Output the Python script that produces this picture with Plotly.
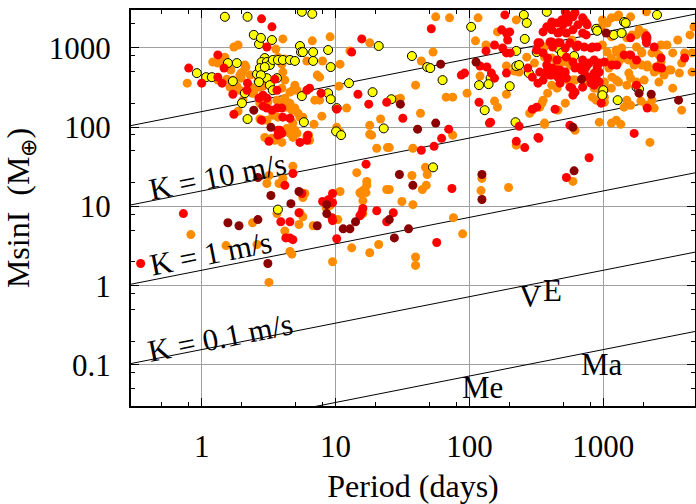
import plotly.graph_objects as go
import numpy as np

# ---------------- data (Period [days], M sin i [Earth masses]) ----------------
P_yellow = [1.49, 2.2, 2.45, 2.68, 2.77, 3.35, 5.42, 5.52, 5.7, 6.8, 8.8, 5.6, 6.7, 6.8, 9.2, 21.0, 37.2, 48.4,
            1.57, 1.83, 0.92, 1.08, 1.19, 2.59, 2.96, 2.8, 2.72, 3.07, 3.23, 3.4, 3.71, 4.04, 4.56, 4.97, 3.07,
            3.23, 3.4, 2.1, 5.6, 8.8, 9.2, 12.6, 2.0, 2.2, 5.8, 10.1, 11.0, 18.9, 26.1, 22.9, 10.2, 1.71, 51,
            103, 255, 268, 378, 259, 224, 318, 63, 144, 118, 139, 224, 235, 278, 200, 130, 221, 53.5, 3.71,
            458, 490, 605, 758, 884, 900, 1200, 1370, 1430, 1470, 2520, 2100, 1770, 1850, 1000, 985, 1280,
            3.65, 2.77, 2.68, 2.96]
M_yellow = [2450, 2450, 1450, 1110, 1330, 1250, 1050, 880, 880, 880, 935, 2830, 2670, 680, 570, 1050, 785, 570,
            640, 640, 478, 425, 425, 464, 740, 660, 553, 660, 605, 700, 700, 700, 700, 680, 413,
            337, 291, 267, 245, 267, 224, 357, 200, 126, 115, 88, 79, 275, 224, 96, 173, 378, 553,
            1830, 2590, 2050, 2830, 1290, 910, 880, 390, 413, 337, 347, 587, 605, 478, 327, 163, 115, 31, 9.1,
            990, 860, 785, 620, 1730, 1630, 1450, 1530, 2110, 2050, 2590, 1330, 318, 300, 291, 252, 218,
            413, 451, 368, 570]

P_orange = [1.74, 1.87, 1.49, 1.21, 1.32, 1.37, 1.65, 1.97, 2.14, 0.78, 1.32, 1.71, 1.97, 2.03, 2.3, 1.54, 1.63,
            1.93, 1.83, 2.63, 2.87, 2.33, 2.68, 2.45, 1.93, 2.03, 2.37, 1.87, 2.72, 3.12, 4.04, 4.33, 4.56, 4.72,
            4.97, 5.24, 3.4, 3.71, 2.72, 2.87, 3.07, 4.8, 4.97, 5.7, 5.42, 4.33, 4.56, 4.8, 5.15, 2.96, 3.35,
            3.52, 3.97, 6.4, 6.1, 10.2, 10.8, 4.04, 3.58, 3.71, 3.97, 4.18, 4.04, 4.18, 4.97, 5.15, 4.8, 3.97,
            4.56, 4.18, 3.65, 6.7, 9.1, 6.1, 8.0, 10.8, 12.8, 18.0, 43.7, 7.0, 7.6, 10.6, 7.3, 7.6, 2.1, 7.9,
            6.9, 6.3, 12.1, 18.0, 18.6, 18.0, 20.3, 21.7, 29.0, 39.6, 43.1, 37.8, 24.4, 25.2, 14.4, 4.8, 3.18,
            3.78, 4.04, 3.07, 37.2, 44.5, 47.6, 48.4, 46.9, 5.9, 5.7, 10.8, 15.2, 15.4, 16.9, 17.1, 17.1, 16.0,
            24.1, 25.2, 16.0, 31.3, 37.8, 5.7, 5.42, 5.33, 6.8, 8.5, 9.1, 10.4, 16.0, 13.2, 18.0, 21.0, 39.6,
            39.6, 9.5, 76, 89, 124, 122, 196, 3.65, 4.18, 4.56, 4.72, 2.4, 1.52, 2.59, 3.18, 0.83,
            56, 71, 116, 162, 224, 111, 133, 268, 53.5, 120, 189, 217, 235, 273, 306, 67, 75, 96, 189, 154,
            162, 30.5, 75, 355, 348, 335, 364, 224, 282,
            721, 985, 1070, 1150, 1260, 1300, 1600, 2100, 965, 1150, 1500, 1770, 2020, 1850, 1640, 2700, 2990,
            3600, 4440, 4750, 583, 364, 985, 1070, 1250, 1370, 1940, 2310, 2470, 3300, 4050, 4600, 364, 412,
            451, 500, 563, 1150, 1300, 1550, 1700, 1940, 2130, 2400, 2840, 3200, 3700, 4600, 2700, 3850, 1260,
            1350, 1430, 1550, 1640, 1770, 1940, 2600, 1800, 2130, 2470, 2520, 3100, 1100, 1160, 1250, 1300,
            1550, 1600, 1770, 615, 758, 1020, 1050, 1150, 1500, 2020, 2600, 3300, 1910, 2100, 2310, 2400, 384,
            900, 965, 1020, 933, 1500, 1600, 1430, 3850, 458, 520, 364, 933, 1150, 1250, 1350, 615, 2230, 593,
            854, 830, 884, 1020, 295, 475, 546, 593, 412, 451]
M_orange = [1020, 1080, 760, 660, 640, 700, 522, 478, 570, 357, 390, 390, 413, 492, 451, 401, 318,
            451, 327, 378, 327, 318, 318, 267, 291, 218, 267, 158, 200, 205, 200, 178, 200, 163,
            173, 149, 141, 133, 126, 122, 122, 112, 91, 133, 133, 96, 83, 74, 83, 74, 72,
            68, 64, 68, 76, 99, 86, 1290, 960, 760, 620, 720, 492, 390, 337, 291, 291, 309,
            275, 231, 218, 1220, 1370, 680, 680, 620, 910, 1150, 680, 218, 218, 327, 451, 425, 605, 137,
            108, 79, 173, 105, 79, 81, 54, 126, 224, 337, 149, 54, 55, 55, 26.6, 32, 24.5,
            19.4, 22.5, 19.4, 24.5, 16.3, 18.4, 25.2, 31, 14.5, 12.9, 15.4, 14.9, 14.5, 14.9, 20.6, 18.4, 15.8,
            16.3, 16.3, 11.8, 11.5, 10.5, 7.4, 8.3, 5.9, 5.7, 9.6, 10.2, 6.8, 8.1, 3.0, 2.6, 3.3, 2.3,
            1.8, 2.0, 7.2, 4.5, 22.5, 15.8, 17.3, 8.1, 4.9, 2.7, 2.5, 6.2, 3.2, 3.3, 1.1, 4.4,
            2450, 2380, 2380, 1580, 2240, 1220, 1080, 760, 880, 438, 587, 507, 492, 492, 640, 238, 238, 267, 259, 212,
            178, 231, 79, 218, 200, 178, 108, 59, 149,
            2240, 2240, 2050, 2380, 2450, 2590, 2450, 2830, 1830, 1370, 1330, 1450, 1530, 1680, 1450, 1080, 1080,
            1250, 1450, 1830, 1250, 1020, 1080, 880, 935, 990, 860, 860, 880, 860, 860, 860, 760, 740,
            640, 660, 605, 740, 660, 700, 605, 605, 605, 492, 451, 522, 478, 492, 660, 640, 880,
            760, 740, 810, 700, 1020, 880, 810, 660, 570, 570, 522, 522, 553, 425, 390, 368,
            478, 413, 368, 390, 368, 368, 309, 309, 337, 390, 368, 309, 212, 188, 218, 173, 267,
            309, 267, 238, 218, 218, 188, 178, 163, 163, 200, 112, 115, 112, 122, 108, 91, 64, 20.6,
            309, 238, 218, 205, 163, 390, 390, 390, 337, 309]

P_red = [2.8, 3.35, 3.07, 1.32, 1.47, 0.8, 1.0, 1.32, 1.42, 2.2, 2.18, 1.71, 2.87, 3.07, 3.65, 3.52, 2.87, 3.07,
         3.35, 3.65, 3.97, 2.68, 1.74, 2.8, 4.04, 4.56, 3.71, 3.97, 3.71, 3.18, 3.84, 5.42, 6.2, 6.1, 6.4, 7.8,
         10.2, 6.1, 13.2, 15.7, 14.7, 17.7, 24.1, 31.8, 43.7, 16.9, 9.5, 4.8, 4.18, 5.33, 3.9, 4.56, 4.25, 4.56,
         4.8, 5.6, 0.73, 0.35, 8.0, 8.9, 9.4, 9.5, 9.5, 16.0, 15.7, 15.2, 20.3, 27.0, 24.1, 10.2, 57, 74,
         51.9, 184, 174, 189, 200, 193, 355, 378, 154, 133, 177, 189, 202, 325, 120, 135, 87, 92, 146, 154,
         189, 118, 141, 70, 62, 54.4, 235, 295, 318, 325, 224, 259, 330, 144,
         520, 615, 701, 412, 451, 500, 546, 520, 646, 758, 412, 475, 530, 593, 701, 1600, 2100, 2100, 412, 458,
         520, 646, 721, 811, 900, 1430, 1600, 2700, 4050, 384, 419, 475, 520, 615, 688, 721, 854, 900, 1020,
         2520, 2730, 364, 412, 458, 530, 884, 900, 854, 1770, 583, 615, 593, 2130, 436, 563, 1700, 965, 1160,
         1260, 1770, 2400, 2100, 811, 783, 530,
         318, 355, 384, 451, 530, 593, 665, 745, 451, 500, 378, 335, 400, 355, 325, 475, 563, 701, 783, 811,
         854, 783, 701, 630, 563, 475, 419, 400, 335, 458, 490, 540, 593, 745, 745, 830, 933, 933, 933, 273,
         295]
M_red = [2310, 1830, 1020, 810, 553, 553, 357, 425, 357, 357, 291, 259, 252, 231, 291, 401, 183, 173,
         163, 173, 173, 231, 145, 122, 133, 129, 91, 83, 79, 66, 91, 64, 79, 291, 309, 267,
         168, 68, 880, 1290, 259, 194, 205, 129, 51, 34, 14.5, 25.9, 18.4, 8.3, 6.4, 6.4, 4.0, 4.0,
         3.8, 14.5, 8.1, 1.9, 11.5, 12.2, 7.2, 6.6, 11.1, 9.4, 8.3, 7.6, 8.8, 8.3, 6.4, 3.9, 3.5, 16.8,
         1730, 2590, 1680, 1530, 1580, 1250, 1580, 1830, 1080, 910, 990, 860, 860, 1150, 587, 570, 451, 478, 478, 413,
         478, 205, 112, 94, 72, 57, 102, 168, 178, 74, 66, 55, 72, 115,
         2830, 2750, 2380, 2110, 2050, 1940, 2110, 2380, 1940, 1940, 1680, 1580, 1530, 1680, 1530, 1330, 1410, 1250, 1180, 1150,
         990, 1080, 1020, 990, 1020, 810, 810, 740, 740, 570, 553, 522, 492, 553, 522, 492, 700, 570, 660,
         570, 553, 478, 451, 425, 413, 425, 368, 337, 337, 309, 275, 252, 173, 168, 105, 83, 200, 605,
         605, 700, 1020, 1150, 368, 41, 23.1,
         935, 860, 740, 700, 760, 660, 570, 570, 522, 492, 605, 492, 451, 390, 357, 357, 318, 318, 425, 357,
         478, 640, 700, 1020, 1150, 1150, 1020, 1180, 1150, 1530, 2240, 2590, 2450, 2050, 1450, 1020, 640, 492, 368, 553,
         425]

P_darkred = [2.45, 3.29, 2.63, 3.29, 4.64, 5.33, 1.57, 1.9, 2.63, 3.12, 8.6, 8.6, 7.3, 11.4, 12.8, 14.1, 25.2,
             30, 37.8, 35.1, 27.5, 41, 56, 30.5, 61, 112, 124, 124, 593, 605, 688, 1050, 1850, 2280, 3650]
M_darkred = [163, 99, 23.1, 13.7, 10.8, 15.4, 6.2, 5.7, 6.8, 1.9, 10.5, 8.1, 5.7, 5.2, 5.2, 6.4, 6.8,
             25.2, 18.4, 5.2, 4.0, 94, 112, 194, 620, 660, 25.2, 12.2, 99, 28, 401, 1530, 267, 259, 218]

# Radial-velocity semi-amplitude reference lines (solar-mass host star)
K_values = [100, 10, 1, 0.1, 0.01]
K_line_periods = [0.1, 30000]

K_labels = ["K = 10 m/s", "K = 1 m/s", "K = 0.1 m/s"]
K_label_P = [1.32, 1.17, 1.39]
K_label_M = [24.1, 2.58, 0.219]

planet_names = ["Me", "V", "E", "Ma"]
planet_P = [85, 226, 340, 660]
planet_M = [0.052, 0.74, 0.87, 0.10]

x_major = [1, 10, 100, 1000]
x_major_text = ["1", "10", "100", "1000"]
y_major = [0.1, 1, 10, 100, 1000]
y_major_text = ["0.1", "1", "10", "100", "1000"]
minor_mult = [2, 5, 8]
decades = [0.01, 0.1, 1, 10, 100, 1000, 10000]

# ---------------- figure ----------------
FONT = "Liberation Serif"
fig = go.Figure()

for K in K_values:
    Pl = np.array(K_line_periods, dtype=float)
    Ml = K / 28.4329 * 317.83 * (Pl / 365.25) ** (1.0 / 3.0)
    fig.add_trace(go.Scatter(x=Pl, y=Ml, mode="lines", line=dict(color="black", width=1),
                             hoverinfo="skip", showlegend=False))

def add_pts(P, M, color, outline):
    fig.add_trace(go.Scatter(
        x=P, y=M, mode="markers", showlegend=False,
        marker=dict(size=9, color=color,
                    line=dict(color="black", width=1 if outline else 0))))

add_pts(P_orange, M_orange, "#ff8c00", False)
add_pts(P_yellow, M_yellow, "#ffff00", True)
add_pts(P_red, M_red, "#ff0000", False)
add_pts(P_darkred, M_darkred, "#8b0000", False)

angle = -np.degrees(np.arctan((1 / 3) * (79.33 / 133.87)))
for txt, px, py in zip(K_labels, K_label_P, K_label_M):
    fig.add_annotation(x=np.log10(px), y=np.log10(py), text=txt, showarrow=False,
                       textangle=angle, font=dict(family=FONT, size=31, color="black"),
                       xanchor="center", yanchor="middle")
for txt, px, py in zip(planet_names, planet_P, planet_M):
    fig.add_annotation(x=np.log10(px), y=np.log10(py), text=txt, showarrow=False,
                       font=dict(family=FONT, size=31, color="black"),
                       xanchor="left", yanchor="middle")

minor_vals = [d * m for d in decades for m in minor_mult]
axis_common = dict(
    type="log", showgrid=True, gridcolor="#a0a0a0", gridwidth=1, zeroline=False,
    ticks="inside", ticklen=8, tickwidth=1, tickcolor="black",
    showline=True, linecolor="black", linewidth=2, mirror="allticks",
    tickfont=dict(family=FONT, size=31, color="black"),
    minor=dict(tickmode="array", tickvals=minor_vals, ticks="inside", ticklen=4,
               tickcolor="black", tickwidth=1, showgrid=False),
)

fig.update_xaxes(**axis_common, range=[-0.528, 3.685], tickmode="array",
                 tickvals=x_major, ticktext=x_major_text, ticklabelstandoff=12,
                 title=dict(text="Period (days)", font=dict(family=FONT, size=32, color="black"),
                            standoff=14))
fig.update_yaxes(**axis_common, range=[-1.517, 3.475], tickmode="array",
                 tickvals=y_major, ticktext=y_major_text, ticklabelstandoff=12,
                 title=dict(text="MsinI&nbsp;&nbsp;(M<sub>⊕</sub>)",
                            font=dict(family=FONT, size=32, color="black"), standoff=10))

fig.update_layout(
    width=696, height=504,
    margin=dict(l=131, r=1, t=10, b=98, autoexpand=False),
    paper_bgcolor="white", plot_bgcolor="white",
    showlegend=False,
)

fig.write_html("out.html", config={"displayModeBar": False},
               post_script="document.body.style.margin='0';document.body.style.padding='0';")
